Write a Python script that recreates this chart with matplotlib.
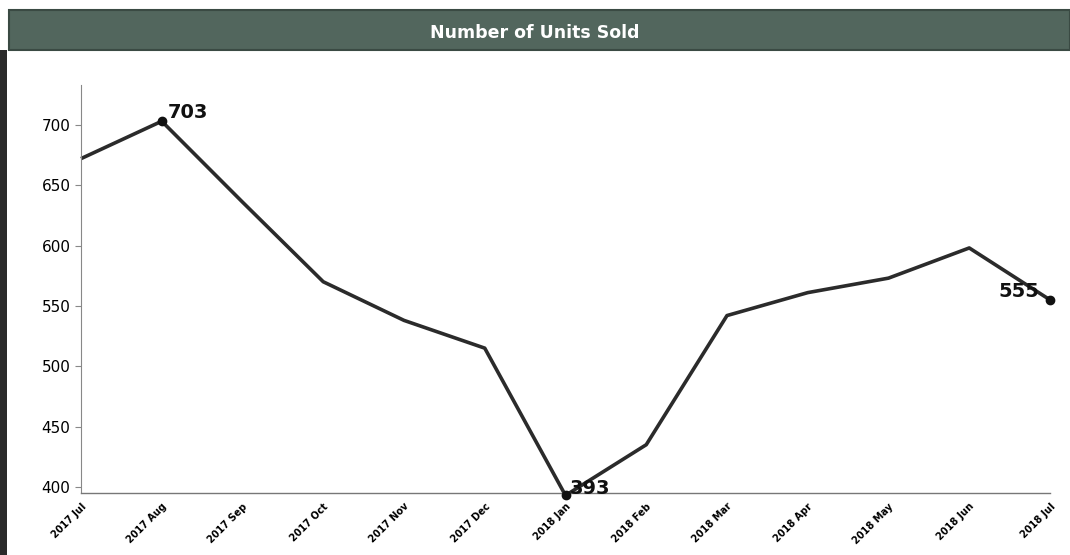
import matplotlib.pyplot as plt
from matplotlib.patches import Rectangle

months = ["2017 Jul", "2017 Aug", "2017 Sep", "2017 Oct", "2017 Nov", "2017 Dec",
          "2018 Jan", "2018 Feb", "2018 Mar", "2018 Apr", "2018 May", "2018 Jun", "2018 Jul"]
units = [672, 703, 636, 570, 538, 515, 393, 435, 542, 561, 573, 598, 555]
marked = [1, 6, 12]  # max, min, last

fig = plt.figure(figsize=(10.7, 5.55), dpi=100)
fig.patch.set_facecolor("white")

# title banner
fig.patches.append(Rectangle((0.008, 1 - 50 / 555), 0.992, 40 / 555, transform=fig.transFigure,
                             facecolor="#52665d", edgecolor="#3a4a43", linewidth=1.5))
fig.patches.append(Rectangle((0.0, 0.0), 0.007, 1 - 50 / 555, transform=fig.transFigure,
                             facecolor="#2a2a2a", edgecolor="none"))
fig.text(0.5, 1 - 33 / 555, "Number of Units Sold", color="white", fontsize=12.5,
         fontweight="bold", ha="center", va="center", family="DejaVu Sans")

ax = fig.add_axes([81 / 1070, 1 - 493 / 555, (1050 - 81) / 1070, (493 - 85) / 555])
x = list(range(len(months)))
ax.plot(x, units, color="#2b2b2b", linewidth=2.6, clip_on=False, solid_capstyle="butt")
ax.plot([x[i] for i in marked], [units[i] for i in marked], "o", color="#111111",
        markersize=6, clip_on=False, zorder=5)

for i, off in zip(marked, [(4, 2), (3, 1), (-37, 2)]):
    ax.annotate(str(units[i]), (x[i], units[i]), xytext=off, textcoords="offset points",
                fontsize=14, fontweight="bold", color="#111111", annotation_clip=False)

ax.set_xlim(0, 12)
ax.set_ylim(395, 733)
ax.set_yticks([400, 450, 500, 550, 600, 650, 700])
ax.set_xticks(x)
ax.set_xticklabels(months, rotation=45, ha="right", rotation_mode="anchor",
                   fontsize=7, fontweight="bold")
ax.tick_params(axis="y", labelsize=11, length=4, color="#888888")
ax.tick_params(axis="x", length=0, pad=6)
for s in ["top", "right"]:
    ax.spines[s].set_visible(False)
ax.spines["left"].set_color("#888888")
ax.spines["left"].set_linewidth(0.8)
ax.spines["bottom"].set_color("#777777")
ax.spines["bottom"].set_linewidth(1)
ax.spines["bottom"].set_linestyle((0, (8, 1)))

fig.savefig("out.png", dpi=100)
